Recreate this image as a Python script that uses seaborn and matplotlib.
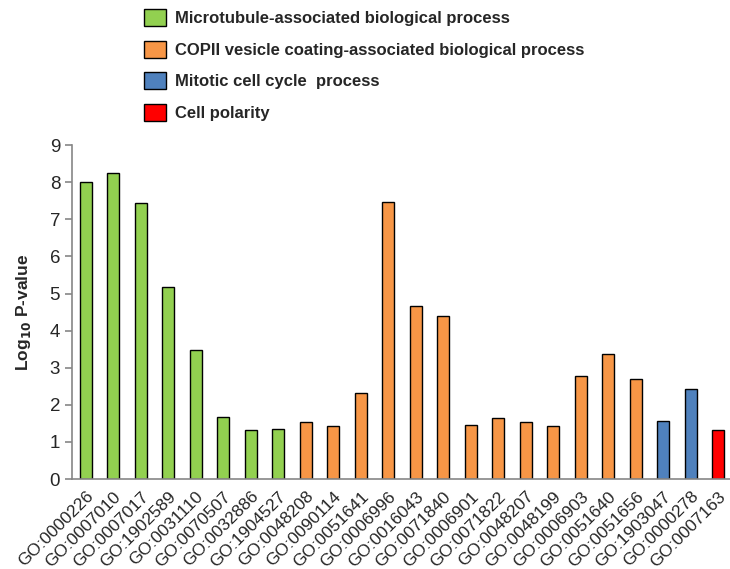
import pandas as pd
import matplotlib.pyplot as plt
import seaborn as sns
from matplotlib.patches import Patch
from matplotlib.ticker import FixedLocator

# GO terms on x axis
go_terms = ['GO:0000226', 'GO:0007010', 'GO:0007017', 'GO:1902589', 'GO:0031110',
            'GO:0070507', 'GO:0032886', 'GO:1904527', 'GO:0048208', 'GO:0090114',
            'GO:0051641', 'GO:0006996', 'GO:0016043', 'GO:0071840', 'GO:0006901',
            'GO:0071822', 'GO:0048207', 'GO:0048199', 'GO:0006903', 'GO:0051640',
            'GO:0051656', 'GO:1903047', 'GO:0000278', 'GO:0007163']
log_p = [8.0, 8.25, 7.45, 5.18, 3.47, 1.68, 1.31, 1.34, 1.53, 1.44,
         2.31, 7.47, 4.67, 4.39, 1.46, 1.65, 1.53, 1.44, 2.78, 3.36,
         2.71, 1.56, 2.43, 1.31]
groups = ['Microtubule'] * 8 + ['COPII'] * 13 + ['Mitotic'] * 2 + ['Polarity']

group_names = ['Microtubule', 'COPII', 'Mitotic', 'Polarity']
legend_labels = ['Microtubule-associated biological process',
                 'COPII vesicle coating-associated biological process',
                 'Mitotic cell cycle  process',
                 'Cell polarity']
colors = ['#92D050', '#F79646', '#4F81BD', '#FF0000']
palette = dict(zip(group_names, colors))

df = pd.DataFrame({'term': go_terms, 'value': log_p, 'group': groups})

sns.set_style('white')
plt.rcParams['font.family'] = ['Liberation Sans', 'DejaVu Sans']

fig = plt.figure(figsize=(7.3, 5.69), dpi=100)
ax = fig.add_axes([0.0986, 0.158, 0.904, 0.587])

sns.barplot(data=df, x='term', y='value', hue='group', palette=palette,
            dodge=False, width=0.43, edgecolor='black', linewidth=1,
            saturation=1, legend=False, ax=ax)

ax.set_xlim(-0.5, len(go_terms) - 0.5)
ax.set_ylim(0, 9)
ax.set_yticks(range(0, 10))
ax.set_xlabel('')
ax.set_ylabel(r'Log$_{\mathbf{10}}$ P-value', fontsize=12.5, fontweight='bold', labelpad=12)

for side in ['top', 'right']:
    ax.spines[side].set_visible(False)
for side in ['left', 'bottom']:
    ax.spines[side].set_color('#868686')
    ax.spines[side].set_linewidth(1.2)

# Excel-like ticks between categories
ax.xaxis.set_minor_locator(FixedLocator([i + 0.5 for i in range(-1, len(go_terms))]))
ax.tick_params(axis='x', which='major', length=0, pad=7)
ax.tick_params(axis='x', which='minor', length=6, color='#868686', width=1.2, direction='out')
ax.tick_params(axis='y', length=5, color='#868686', width=1.2, direction='out', labelsize=13.5, left=True)
plt.setp(ax.get_xticklabels(), rotation=45, ha='right', rotation_mode='anchor', fontsize=12.5)

handles = [Patch(facecolor=c, edgecolor='black', linewidth=1) for c in colors]
fig.legend(handles, legend_labels, loc='upper left', bbox_to_anchor=(0.177, 1.01),
           frameon=False, prop={'weight': 'bold', 'size': 12},
           handlelength=1.3, handleheight=1.2, handletextpad=0.55, labelspacing=0.86)

fig.savefig('out.png', dpi=100)
